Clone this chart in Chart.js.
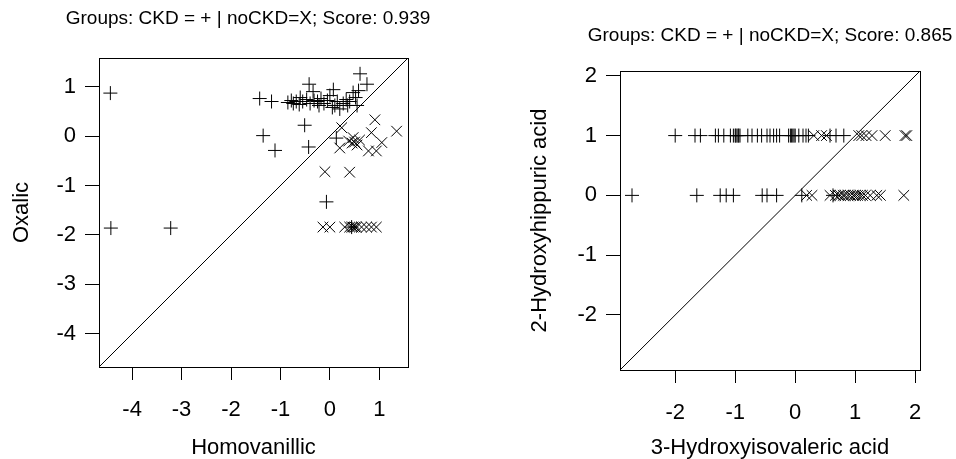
<!DOCTYPE html>
<html>
<head>
<meta charset="utf-8">
<script src="https://cdn.jsdelivr.net/npm/chart.js@4"></script>
<style>
  body { margin: 0; background: #fff; }
  canvas { position: absolute; top: 0; }
  #leftChart { left: 0; }
  #rightChart { left: 478px; }
</style>
</head>
<body>
<canvas id="leftChart" width="478" height="459"></canvas>
<canvas id="rightChart" width="478" height="459"></canvas>
<script>
// ---- left panel: Homovanillic vs Oxalic ----
const leftTicks = [-4, -3, -2, -1, 0, 1];
const leftLim = [-4.67, 1.58];
const leftCkdX = [-4.44, -4.43, -3.22, -1.42, -1.18, -1.35, -1.11, -0.51, -0.43, -0.07, 0.61, 0.75, -0.42, -0.34, 0.13, 0.44,
  -0.85, -0.78, -0.74, -0.68, -0.62, -0.55, -0.47, -0.40, -0.32, -0.25, -0.18, -0.12, -0.05, 0.00, 0.07,
  0.10, 0.15, 0.20, 0.27, 0.33, 0.40, 0.47, 0.52, 0.55, 0.58, -0.60, -0.22, 0.05, 0.36];
const leftCkdY = [0.87, -1.86, -1.86, 0.76, 0.70, 0.01, -0.29, 0.22, -0.22, -1.33, 1.26, 1.05, 1.05, 0.90, -0.04, -1.84,
  0.68, 0.72, 0.66, 0.70, 0.64, 0.70, 0.74, 0.66, 0.72, 0.70, 0.76, 0.66, 0.72, 0.82, 0.94,
  0.62, 0.70, 0.55, 0.66, 0.74, 0.70, 0.88, 0.78, 0.62, 0.92, 0.78, 0.62, 0.58, 0.62];
const leftNoCkdX = [0.91, 1.35, 0.84, 0.24, 0.20, 0.38, 0.45, 0.50, 0.55, 0.47, 0.60, 0.78, 0.94, 1.05, -0.10, 0.40,
  -0.14, 0.00, 0.30, 0.40, 0.44, 0.47, 0.51, 0.54, 0.64, 0.74, 0.84, 0.94];
const leftNoCkdY = [0.33, 0.10, 0.07, 0.17, -0.24, -0.10, -0.14, -0.12, -0.18, -0.03, -0.08, -0.30, -0.30, -0.13, -0.72, -0.73,
  -1.84, -1.84, -1.84, -1.84, -1.84, -1.84, -1.84, -1.84, -1.84, -1.84, -1.84, -1.84];

// ---- right panel: 3-Hydroxyisovaleric acid vs 2-Hydroxyhippuric acid ----
const rightTicks = [-2, -1, 0, 1, 2];
const rightLim = [-2.92, 2.08];
const rightCkdX = [-2.00, -1.67, -1.58, -1.33, -1.28, -1.19, -1.08, -1.03, -1.00, -0.99, -0.97, -0.95, -0.94, -0.92,
  -0.79, -0.72, -0.63, -0.56, -0.47, -0.42, -0.36, -0.31, -0.26, -0.11, -0.08, -0.06, -0.04, -0.02, 0.00,
  0.06, 0.13, 0.18, 0.22, 0.58, 0.68, 0.81,
  -2.72, -1.64, -1.25, -1.15, -1.03, -0.55, -0.47, -0.31, 0.11, 0.63];
const rightCkdY = [1, 1, 1, 1, 1, 1, 1, 1, 1, 1, 1, 1, 1, 1,
  1, 1, 1, 1, 1, 1, 1, 1, 1, 1, 1, 1, 1, 1, 1,
  1, 1, 1, 1, 1, 1, 1,
  0, 0, 0, 0, 0, 0, 0, 0, 0, 0];
const rightNoCkdX = [0.31, 0.44, 0.52, 1.06, 1.11, 1.18, 1.28, 1.50, 1.83, 1.86,
  0.19, 0.28, 0.58, 0.67, 0.72, 0.75, 0.80, 0.83, 0.88, 0.92, 0.97, 1.00, 1.04, 1.08, 1.12, 1.17, 1.25, 1.36, 1.42, 1.81];
const rightNoCkdY = [1, 1, 1, 1, 1, 1, 1, 1, 1, 1,
  0, 0, 0, 0, 0, 0, 0, 0, 0, 0, 0, 0, 0, 0, 0, 0, 0, 0, 0, 0];

const FONT = "'Liberation Sans', Arial, sans-serif";

function pts(xs, ys) {
  return xs.map((x, i) => ({ x: x, y: ys[i] }));
}

// R-style full box around the plot region, plus the main title
// (drawn by hand so it is not squeezed to the plot width)
const boxPlugin = {
  id: 'box',
  afterDraw(chart, args, opts) {
    const a = chart.chartArea;
    const ctx = chart.ctx;
    ctx.save();
    ctx.strokeStyle = '#000';
    ctx.lineWidth = 1;
    ctx.strokeRect(a.left + 0.5, a.top + 0.5, a.right - a.left, a.bottom - a.top);
    ctx.fillStyle = '#000';
    ctx.font = '19px ' + FONT;
    ctx.textAlign = 'center';
    ctx.textBaseline = 'middle';
    ctx.fillText(opts.text, opts.x, opts.y);
    ctx.restore();
  }
};

function makeChart(id, cfg) {
  const tickFilter = (scale) => {
    scale.ticks = cfg.ticks.map(v => ({ value: v }));
  };
  return new Chart(document.getElementById(id), {
    type: 'scatter',
    data: {
      datasets: [
        {
          label: 'diag',
          data: [{ x: cfg.lim[0], y: cfg.lim[0] }, { x: cfg.lim[1], y: cfg.lim[1] }],
          showLine: true,
          borderColor: '#000',
          borderWidth: 1,
          pointRadius: 0
        },
        {
          label: 'CKD',
          data: pts(cfg.ckdX, cfg.ckdY),
          pointStyle: 'cross',
          pointRadius: 7,
          borderColor: '#000',
          borderWidth: 1
        },
        {
          label: 'noCKD',
          data: pts(cfg.noX, cfg.noY),
          pointStyle: 'crossRot',
          pointRadius: 7.5,
          borderColor: '#000',
          borderWidth: 1
        }
      ]
    },
    options: {
      responsive: false,
      animation: false,
      events: [],
      devicePixelRatio: 1,
      layout: { padding: { top: cfg.padTop, right: cfg.padRight, bottom: 0, left: 0 } },
      plugins: {
        legend: { display: false },
        tooltip: { enabled: false },
        title: { display: false },
        box: { text: cfg.title, x: cfg.titleX, y: cfg.titleY }
      },
      scales: {
        x: {
          type: 'linear',
          min: cfg.lim[0],
          max: cfg.lim[1],
          afterBuildTicks: tickFilter,
          afterFit: (s) => { s.height = cfg.xAxisH; },
          grid: { drawOnChartArea: false, drawTicks: true, tickLength: 13, color: '#000' },
          border: { display: false },
          ticks: { color: '#000', font: { family: FONT, size: 22 }, padding: 17, maxRotation: 0 },
          title: {
            display: true,
            text: cfg.xLabel,
            color: '#000',
            font: { family: FONT, size: 22, lineHeight: 1 },
            padding: { top: 0, bottom: 0.5 }
          }
        },
        y: {
          type: 'linear',
          min: cfg.lim[0],
          max: cfg.lim[1],
          afterBuildTicks: tickFilter,
          afterFit: (s) => { s.width = cfg.yAxisW; },
          grid: { drawOnChartArea: false, drawTicks: true, tickLength: 14, color: '#000' },
          border: { display: false },
          ticks: { color: '#000', font: { family: FONT, size: 22 }, padding: 9 },
          title: {
            display: true,
            text: cfg.yLabel,
            color: '#000',
            font: { family: FONT, size: 22, lineHeight: 1 },
            padding: { top: cfg.yTitlePad, bottom: 0 }
          }
        }
      }
    },
    plugins: [boxPlugin]
  });
}

makeChart('leftChart', {
  title: 'Groups: CKD = + | noCKD=X; Score: 0.939',
  titleX: 248,
  titleY: 19,
  xLabel: 'Homovanillic',
  yLabel: 'Oxalic',
  ticks: leftTicks,
  lim: leftLim,
  ckdX: leftCkdX, ckdY: leftCkdY,
  noX: leftNoCkdX, noY: leftNoCkdY,
  padTop: 58,
  padRight: 70,
  yAxisW: 99,
  xAxisH: 92,
  yTitlePad: 11
});

makeChart('rightChart', {
  title: 'Groups: CKD = + | noCKD=X; Score: 0.865',
  titleX: 292,
  titleY: 36,
  xLabel: '3-Hydroxyisovaleric acid',
  yLabel: '2-Hydroxyhippuric acid',
  ticks: rightTicks,
  lim: rightLim,
  ckdX: rightCkdX, ckdY: rightCkdY,
  noX: rightNoCkdX, noY: rightNoCkdY,
  padTop: 71,
  padRight: 36,
  yAxisW: 142,
  xAxisH: 89,
  yTitlePad: 51
});
</script>
</body>
</html>
